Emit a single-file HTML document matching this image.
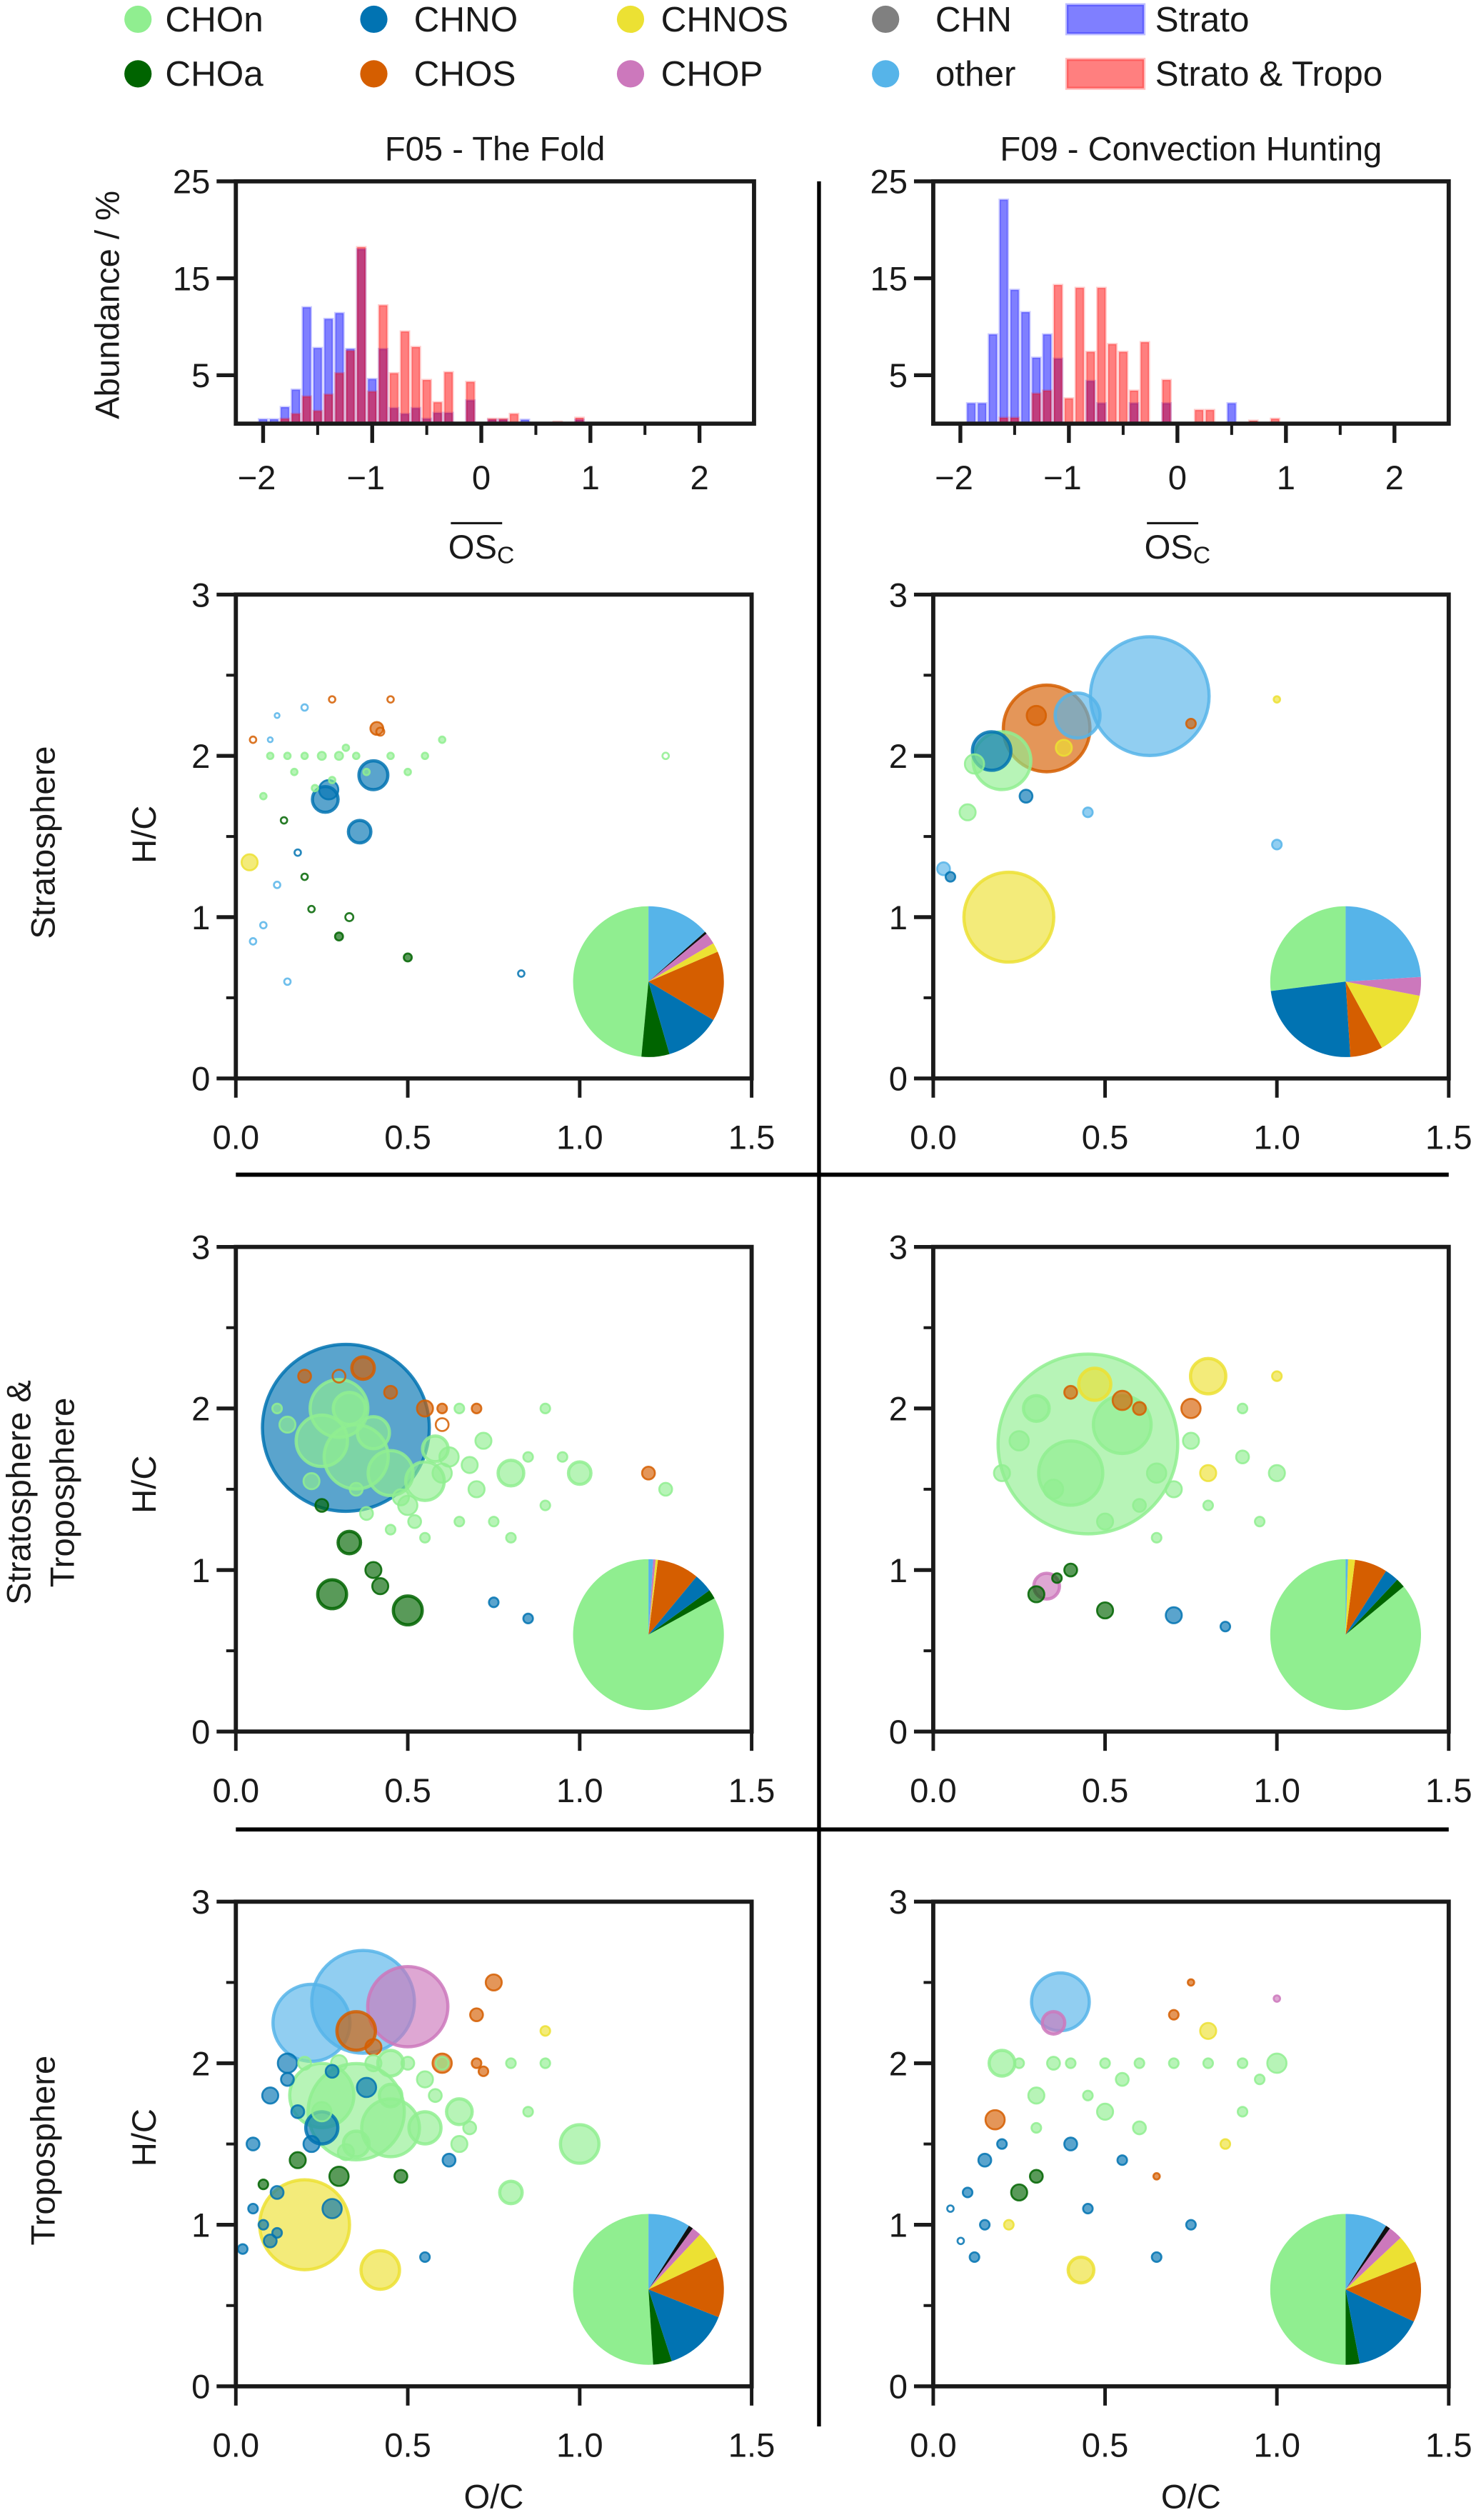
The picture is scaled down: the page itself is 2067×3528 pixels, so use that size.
<!DOCTYPE html>
<html><head><meta charset="utf-8"><style>
html,body{margin:0;padding:0;background:#fff}
svg{display:block}
text{font-family:"Liberation Sans",sans-serif;fill:#1a1a1a}
</style></head><body>
<svg id="fig" xmlns="http://www.w3.org/2000/svg" width="2067" height="3528" viewBox="0 0 920 1570.3">
<g id="legend"></g>
<g id="plots"></g>
</svg>
<script>
// ---------- data ----------
const categories = ["CHOn","CHOa","CHNO","CHOS","CHNOS","CHOP","CHN","other"];
const catColors = ["#90ee90","#006400","#0173b2","#d55e00","#ece133","#cc78bc","#111111","#56b4e9"];
const legendColors = ["#90ee90","#006400","#0173b2","#d55e00","#ece133","#cc78bc","#808080","#56b4e9"];

const histBins = [-2.0,-1.9,-1.8,-1.7,-1.6,-1.5,-1.4,-1.3,-1.2,-1.1,-1.0,-0.9,-0.8,-0.7,-0.6,-0.5,-0.4,-0.3,-0.2,-0.1,0.0,0.1,0.2,0.3,0.4,0.5,0.6,0.7,0.8,0.9];
const f05Strato = [0.45,0.45,1.7,3.5,12.0,7.8,10.8,11.4,7.7,18.0,4.6,7.7,1.6,1.0,1.6,0.5,1.1,1.1,0,2.4,0,0.4,0.4,0,0.4,0,0,0,0,0.4];
const f05Both   = [0,0,0.5,1.0,2.8,1.3,3.0,5.2,7.5,18.2,3.3,12.2,5.2,9.5,7.9,4.5,2.2,5.3,0,4.3,0,0.5,0.5,1.0,0,0,0,0.2,0,0.6];
const f09Strato = [0,2.1,2.1,9.2,23.1,13.8,11.5,6.8,9.2,6.7,0,0,4.4,2.1,0,0,2.1,0,0,2.1,0,0,0,0,0,2.1,0,0,0,0];
const f09Both   = [0,0,0,0,0.6,0.6,0,3.1,3.4,14.3,2.6,14.0,7.4,14.0,8.2,7.4,3.4,8.4,0,4.5,0,0,1.4,1.4,0,0,0,0.3,0,0.5];
const histYTicks = [5,15,25];
const histXTicks = [-2,-1,0,1,2];

const scatterXTicks = [0,0.5,1.0,1.5];
const scatterXTickLabels = ["0.0","0.5","1.0","1.5"];
const scatterYTicks = [0,1,2,3];

const pieF05Strato = [0.485,0.06,0.12,0.15,0.02,0.025,0.005,0.135];
const pieF09Strato = [0.27,0,0.24,0.07,0.14,0.04,0,0.24];
const pieF05Both   = [0.83,0.02,0.04,0.09,0.005,0.005,0,0.01];
const pieF09Both   = [0.86,0.02,0.03,0.07,0.015,0,0,0.005];
const pieF05Tropo  = [0.51,0.04,0.14,0.13,0.06,0.02,0.01,0.09];
const pieF09Tropo  = [0.50,0.03,0.15,0.13,0.06,0.03,0.01,0.09];

// scatter points: O/C, H/C, radius(px), category index, filled(1)/hollow(0)
const s1aOC=[0.26,0.36,0.40,0.27,0.41,0.04,0.30,0.50,0.10,0.15,0.20,0.25,0.30,0.35,0.45,0.12,0.18,0.22,0.33,0.05,0.08,0.20,0.28,0.42,1.25,0.83,0.60,0.45,0.14,0.23,0.05,0.17,0.28,0.38,0.50,0.55,0.12,0.08,0.32,0.20,0.15,0.10];
const s1aHC=[1.73,1.53,1.88,1.79,2.17,1.34,0.88,0.75,2.0,2.0,2.0,2.0,2.0,2.0,2.0,1.2,1.4,1.05,1.0,0.85,0.95,2.3,2.35,2.15,2.0,0.65,2.1,2.35,1.6,1.8,2.1,1.9,1.85,1.9,1.9,2.0,2.25,1.75,2.05,1.25,0.6,2.1];
const s1aR=[8,7,9,6,4,5,2.5,2.5,2,2,2,2.5,2.5,2,2,2,2,2,2.5,2,2,2,2,2.5,2,2,2,2,2,2,2,2,2,2,2,2,1.5,2,2,2,2,1.5];
const s1aC=[2,2,2,2,3,4,1,1,0,0,0,0,0,0,0,7,2,1,1,7,7,7,3,3,0,2,0,3,1,0,3,0,0,0,0,0,7,0,0,1,7,7];
const s1aF=[1,1,1,1,1,1,1,1,1,1,1,1,1,1,1,0,0,0,0,0,0,0,0,0,0,0,1,0,0,1,0,1,1,1,1,1,0,1,1,0,0,0];

const s1bOC=[0.63,0.42,0.33,0.20,0.17,0.22,0.03,0.38,1.0,0.05,0.10,0.27,0.45,0.75,1.0,0.30,0.12];
const s1bHC=[2.37,2.25,2.17,1.97,2.03,1.0,1.3,2.05,1.45,1.25,1.65,1.75,1.65,2.2,2.35,2.25,1.95];
const s1bR=[37,14,27,18,12,28,4,5,3,3,5,4,3,3,2,6,6];
const s1bC=[7,7,3,0,2,4,7,4,7,2,0,2,7,3,4,3,0];
const s1bF=[1,1,1,1,1,1,1,1,1,1,1,1,1,1,1,1,1];

const s2aOC=[0.32,0.35,0.25,0.45,0.55,0.40,0.30,0.33,0.28,0.50,0.33,0.40,0.42,0.37,0.55,1.20,0.80,1.00,0.60,0.70,0.50,0.15,0.20,1.25,0.90,0.65,0.75,0.45,0.58,0.85,0.62,0.68,0.72,0.48,0.52,0.38,0.25,0.30,0.60,0.65,0.70,0.85,0.90,0.95,0.55,0.45,0.35,0.22,0.12,0.75,0.80,0.60];
const s2aHC=[1.88,1.70,1.80,1.60,1.55,1.85,2.00,2.00,0.85,0.75,1.17,1.00,0.90,2.25,2.00,1.60,1.60,1.60,1.60,1.50,1.40,1.90,2.20,1.50,2.00,1.30,0.80,2.10,1.75,0.70,1.70,1.65,1.80,1.45,1.30,1.35,1.40,2.20,2.00,2.00,2.00,1.70,1.40,1.70,1.20,1.25,1.50,1.55,2.00,1.30,1.20,1.90];
const s2aR=[52,20,16,14,12,10,18,10,9,9,7,5,5,7,5,4,8,7,6,5,6,5,4,4,3,3,3,4,8,3,6,5,5,5,4,4,4,4,3,3,3,3,3,3,3,3,4,5,3,3,3,4];
const s2aC=[2,0,0,0,0,0,0,0,1,1,1,1,1,3,3,3,0,0,0,0,0,0,3,0,0,0,2,3,0,2,0,0,0,0,0,0,1,3,3,0,3,0,0,0,0,0,0,0,0,0,0,3];
const s2aF=[1,1,1,1,1,1,1,1,1,1,1,1,1,1,1,1,1,1,1,1,1,1,1,1,1,1,1,1,1,1,1,1,1,1,1,1,1,0,1,1,1,1,1,1,1,1,1,1,1,1,1,0];

const s2bOC=[0.45,0.40,0.55,0.80,0.47,0.75,0.33,0.30,0.50,0.70,0.90,1.00,0.80,0.60,0.85,0.40,0.65,1.00,0.36,0.30,0.55,0.65,0.75,0.25,0.35,0.70,0.60,0.50,0.90,0.20,0.40,0.80,0.95];
const s2bHC=[1.78,1.60,1.90,2.20,2.15,2.00,0.90,0.85,0.75,0.72,1.70,1.60,1.60,1.40,0.65,1.00,1.20,2.20,0.95,2.00,2.05,1.60,1.80,1.80,1.50,1.50,2.00,1.30,2.00,1.60,2.10,1.40,1.30];
const s2bR=[56,20,18,11,10,6,8,5,5,5,4,5,5,4,3,4,3,3,3,8,6,6,5,6,6,5,4,5,3,5,4,3,3];
const s2bC=[0,0,0,4,4,3,5,1,1,2,0,0,4,0,2,1,0,4,1,0,3,0,0,0,0,0,3,0,0,0,3,0,0];
const s2bF=[1,1,1,1,1,1,1,1,1,1,1,1,1,1,1,1,1,1,1,1,1,1,1,1,1,1,1,1,1,1,1,1,1];

const s3aOC=[0.37,0.22,0.50,0.35,0.20,0.42,0.35,0.25,0.45,1.00,0.55,0.65,0.80,0.15,0.10,0.05,0.30,0.60,0.75,0.28,0.18,0.12,0.70,0.85,0.40,0.55,0.10,0.25,0.90,0.45,0.08,0.62,0.20,0.30,0.40,0.50,0.60,0.70,0.80,0.90,0.15,0.25,0.35,0.45,0.55,0.65,0.05,0.12,0.18,0.22,0.28,0.32,0.38,0.48,0.58,0.68,0.72,0.02,0.08];
const s3aHC=[2.38,2.25,2.35,2.20,1.00,0.72,1.70,1.80,1.60,1.50,1.60,1.70,1.20,2.00,1.80,1.50,1.30,2.00,2.50,1.10,1.40,1.20,2.30,1.70,2.10,0.80,0.90,1.60,2.20,2.00,1.00,1.40,2.00,2.00,2.00,2.00,2.00,2.00,2.00,2.00,1.90,1.70,1.50,1.80,1.90,1.50,1.10,0.95,1.70,1.50,1.95,1.45,1.85,1.30,1.80,1.60,1.95,0.85,1.25];
const s3aR=[32,24,25,12,28,12,30,20,18,12,10,8,7,6,5,4,6,6,5,6,5,4,4,3,5,3,4,10,3,8,3,4,4,5,5,4,4,3,3,3,4,6,8,7,5,5,3,3,4,5,4,5,6,4,4,4,3,3,3];
const s3aC=[7,7,5,3,4,4,0,0,0,0,0,0,0,2,2,2,1,3,3,2,1,2,3,0,3,2,2,2,4,0,2,2,0,0,0,0,0,3,0,0,2,0,0,0,0,0,2,2,2,2,2,0,2,1,0,0,3,2,1];
const s3aF=[1,1,1,1,1,1,1,1,1,1,1,1,1,1,1,1,1,1,1,1,1,1,1,1,1,1,1,1,1,1,1,1,1,1,1,1,1,1,1,1,1,1,1,1,1,1,1,1,1,1,1,1,1,1,1,1,1,1,1];

const s3bOC=[0.37,0.35,0.43,0.20,1.00,0.18,0.30,0.50,0.60,0.25,0.15,0.70,0.40,0.45,0.80,0.65,0.10,0.55,0.90,0.75,1.00,0.30,0.22,0.12,0.85,0.35,0.25,0.40,0.50,0.60,0.70,0.80,0.90,0.45,0.55,0.20,0.15,0.30,0.05,0.08,0.95,0.65,0.75];
const s3bHC=[2.38,2.25,0.72,2.00,2.00,1.65,1.80,1.70,1.60,1.20,1.40,2.30,1.50,1.10,2.20,0.80,1.20,1.90,1.70,1.00,2.40,1.30,1.00,0.80,1.50,2.00,2.00,2.00,2.00,2.00,2.00,2.00,2.00,1.80,1.40,1.50,1.00,1.60,1.10,0.90,1.90,1.30,2.50];
const s3bR=[18,7,8,8,6,6,5,5,4,5,4,3,4,3,5,3,3,4,3,3,2,4,3,3,3,4,3,3,3,3,3,3,3,3,3,3,3,3,2,2,3,2,2];
const s3bC=[7,5,4,0,0,3,0,0,0,1,2,3,2,2,4,2,2,0,0,2,5,1,4,2,4,0,0,0,0,0,0,0,0,0,2,2,2,0,2,2,0,3,3];
const s3bF=[1,1,1,1,1,1,1,1,1,1,1,1,1,1,1,1,1,1,1,1,1,1,1,1,1,1,1,1,1,1,1,1,1,1,1,1,1,1,0,0,1,1,1];

// ---------- helpers ----------
const NS="http://www.w3.org/2000/svg";
function mk(tag, parent, attrs){const e=document.createElementNS(NS,tag);for(const k in attrs)e.setAttribute(k,attrs[k]);parent.appendChild(e);return e;}
const plots=document.getElementById('plots');
const legend=document.getElementById('legend');
const INK="#1a1a1a";

// ---------- legend ----------
const legX=[86,233,393,552], legTX=[103,258,412,583];
const legOrder=[[0,2,4,6],[1,3,5,7]];
for(let r=0;r<2;r++){for(let c=0;c<4;c++){
  const i=legOrder[r][c]; const y=r===0?12:46;
  const g=mk('g',legend,{});
  
  
  mk('circle',g,{cx:legX[c],cy:y,r:8.5,fill:legendColors[i]});
  const t=mk('text',g,{x:legTX[c],y:y+7.5,'font-size':22});t.textContent=categories[i];
}}
[["Strato","#0000ff",12],["Strato & Tropo","#ff0000",46]].forEach(([lbl,col,y])=>{
  const g=mk('g',legend,{});
  
  
  mk('rect',g,{x:665,y:y-9,width:48,height:18,fill:col,'fill-opacity':0.5,stroke:col,'stroke-opacity':0.25,'stroke-width':2});
  const t=mk('text',g,{x:720,y:y+7.5,'font-size':22});t.textContent=lbl;
});

// ---------- histograms ----------
function hist(x0,x1,title,blue,red,name,showY){
  const yT=113,yB=264;
  const g=mk('g',plots,{});
  
  
  const sx=v=>x0+(v+2.25)/4.75*(x1-x0);
  const sy=v=>yB-v/25*(yB-yT);
  const w=(sx(0.075)-sx(0));
  histBins.forEach((b,i)=>{ if(blue[i]>0){
    const r=mk('rect',g,{x:sx(b)-w/2,y:sy(blue[i]),width:w,height:yB-sy(blue[i]),fill:'#0000ff','fill-opacity':0.5,stroke:'#0000ff','stroke-opacity':0.2,'stroke-width':1.5});
    
    
  }});
  histBins.forEach((b,i)=>{ if(red[i]>0){
    const r=mk('rect',g,{x:sx(b)-w/2,y:sy(red[i]),width:w,height:yB-sy(red[i]),fill:'#ff0000','fill-opacity':0.5,stroke:'#ff0000','stroke-opacity':0.2,'stroke-width':1.5});
    
    
  }});
  mk('rect',g,{x:x0,y:yT,width:x1-x0,height:yB-yT,fill:'none',stroke:INK,'stroke-width':2.6});
  histXTicks.forEach(v=>{mk('line',g,{x1:sx(v),x2:sx(v),y1:yB,y2:yB+12,stroke:INK,'stroke-width':2.4});
    const t=mk('text',g,{x:sx(v)-(v<0?4:0),y:yB+41,'font-size':21,'text-anchor':'middle'});t.textContent=(v<0?'\u2212':'')+Math.abs(v);});
  [-1.5,-0.5,0.5,1.5].forEach(v=>mk('line',g,{x1:sx(v),x2:sx(v),y1:yB,y2:yB+7,stroke:INK,'stroke-width':1.8}));
  histYTicks.forEach(v=>{mk('line',g,{x1:x0-12,x2:x0,y1:sy(v),y2:sy(v),stroke:INK,'stroke-width':2.4});
    const t=mk('text',g,{x:x0-16,y:sy(v)+7.5,'font-size':21,'text-anchor':'end'});t.textContent=v;});
  const tt=mk('text',g,{x:(x0+x1)/2,y:100,'font-size':21,'text-anchor':'middle'});tt.textContent=title;
  
  
  const cx=sx(0);
  const xl=mk('text',g,{x:cx,y:348,'font-size':21,'text-anchor':'middle'});
  xl.innerHTML='OS<tspan font-size="15" dy="3">C</tspan>';
  
  
  mk('line',g,{x1:cx-19,x2:cx+13,y1:326,y2:326,stroke:INK,'stroke-width':1.4});
  if(showY){const yl=mk('text',g,{x:0,y:0,'font-size':21,'text-anchor':'middle',transform:'translate(74,190) rotate(-90)'});yl.textContent='Abundance / %';
    
    }
}
hist(147,470,'F05 - The Fold',f05Strato,f05Both,'hist-f05',true);
hist(581.7,903,'F09 - Convection Hunting',f09Strato,f09Both,'hist-f09',false);

// ---------- scatter panels ----------
function scatter(x0,x1,yT,yB,OC,HC,R,C,F,pie,name,xlabel){
  const g=mk('g',plots,{});
  
  
  const sx=v=>x0+v/1.5*(x1-x0);
  const sy=v=>yB-v/3*(yB-yT);
  const clipId='clip-'+name;
  const cp=mk('clipPath',g,{id:clipId});mk('rect',cp,{x:x0-8,y:yT,width:x1-x0+8,height:yB-yT});
  const pg=mk('g',g,{'clip-path':'url(#'+clipId+')'});
  const idx=OC.map((_,i)=>i).sort((a,b)=>R[b]-R[a]);
  idx.forEach(i=>{
    const col=catColors[C[i]];
    const c=mk('circle',pg,{cx:sx(OC[i]),cy:sy(HC[i]),r:R[i],fill:F[i]?col:'none','fill-opacity':F[i]?0.65:0,stroke:col,'stroke-width':R[i]>6?2:1.2,'stroke-opacity':0.85});
    
    
  });
  const pcx=sx(1.2), pcy=sy(0.6), pr=47;
  let a=0;
  pie.forEach((f,i)=>{ if(f<=0)return;
    const a0=a, a1=a+f*2*Math.PI; a=a1;
    const p0=[pcx-Math.sin(a0)*pr,pcy-Math.cos(a0)*pr], p1=[pcx-Math.sin(a1)*pr,pcy-Math.cos(a1)*pr];
    const large=(a1-a0)>Math.PI?1:0;
    const w=mk('path',g,{d:`M${pcx},${pcy}L${p0[0]},${p0[1]}A${pr},${pr} 0 ${large} 0 ${p1[0]},${p1[1]}Z`,fill:catColors[i]});
    
    
  });
  mk('rect',g,{x:x0,y:yT,width:x1-x0,height:yB-yT,fill:'none',stroke:INK,'stroke-width':2.6});
  scatterXTicks.forEach((v,i)=>{mk('line',g,{x1:sx(v),x2:sx(v),y1:yB,y2:yB+12,stroke:INK,'stroke-width':2.2});
    const t=mk('text',g,{x:sx(v),y:yB+44,'font-size':21,'text-anchor':'middle'});t.textContent=scatterXTickLabels[i];});
  scatterYTicks.forEach(v=>{mk('line',g,{x1:x0-12,x2:x0,y1:sy(v),y2:sy(v),stroke:INK,'stroke-width':2.4});
    const t=mk('text',g,{x:x0-16,y:sy(v)+7.5,'font-size':21,'text-anchor':'end'});t.textContent=v;});
  [0.5,1.5,2.5].forEach(v=>mk('line',g,{x1:x0-6,x2:x0,y1:sy(v),y2:sy(v),stroke:INK,'stroke-width':1.8}));
  if(xlabel){const t=mk('text',g,{x:(x0+x1)/2,y:1563,'font-size':21,'text-anchor':'middle'});t.textContent='O/C';
    
    }
}
const L=[147,468.5], Rr=[581.7,903];
const rows=[[370.5,672],[777,1079],[1185,1487]];
scatter(L[0],L[1],rows[0][0],rows[0][1],s1aOC,s1aHC,s1aR,s1aC,s1aF,pieF05Strato,'scatter-f05-strato',false);
scatter(Rr[0],Rr[1],rows[0][0],rows[0][1],s1bOC,s1bHC,s1bR,s1bC,s1bF,pieF09Strato,'scatter-f09-strato',false);
scatter(L[0],L[1],rows[1][0],rows[1][1],s2aOC,s2aHC,s2aR,s2aC,s2aF,pieF05Both,'scatter-f05-both',false);
scatter(Rr[0],Rr[1],rows[1][0],rows[1][1],s2bOC,s2bHC,s2bR,s2bC,s2bF,pieF09Both,'scatter-f09-both',false);
scatter(L[0],L[1],rows[2][0],rows[2][1],s3aOC,s3aHC,s3aR,s3aC,s3aF,pieF05Tropo,'scatter-f05-tropo',true);
scatter(Rr[0],Rr[1],rows[2][0],rows[2][1],s3bOC,s3bHC,s3bR,s3bC,s3bF,pieF09Tropo,'scatter-f09-tropo',true);

function rot(txt,x,y,nm){const t=mk('text',plots,{'font-size':21,'text-anchor':'middle',transform:`translate(${x},${y}) rotate(-90)`});t.textContent=txt;
  
  }
rot('H/C',97,520,'y-axis-title');rot('H/C',97,925,'y-axis-title');rot('H/C',97,1332,'y-axis-title');
rot('Stratosphere',34,525,'row-label-strato');
rot('Stratosphere &',19,930,'row-label-both');rot('Troposphere',46,930,'row-label-both-2');
rot('Troposphere',34,1340,'row-label-tropo');

mk('line',plots,{x1:510.5,x2:510.5,y1:113,y2:1512,stroke:'#000','stroke-width':2.4});
mk('line',plots,{x1:147,x2:903,y1:732,y2:732,stroke:'#000','stroke-width':2.6});
mk('line',plots,{x1:147,x2:903,y1:1140,y2:1140,stroke:'#000','stroke-width':2.6});
</script>
</body></html>
